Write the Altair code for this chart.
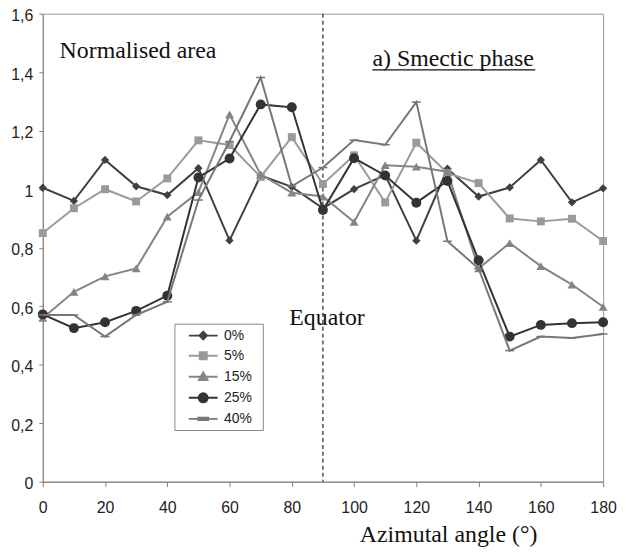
import altair as alt
import pandas as pd

# ---------------- data ----------------
angles = [0, 10, 20, 30, 40, 50, 60, 70, 80, 90, 100, 110, 120, 130, 140, 150, 160, 170, 180]
series_names = ["0%", "5%", "15%", "25%", "40%"]

area_0 = [1.005, 0.96, 1.10, 1.01, 0.98, 1.072, 0.825, 1.047, 1.008, 0.935, 1.0, 1.048, 0.824, 1.07, 0.975, 1.006, 1.10, 0.955, 1.003]
area_5 = [0.85, 0.935, 1.0, 0.958, 1.037, 1.167, 1.151, 1.042, 1.178, 1.018, 1.116, 0.955, 1.159, 1.055, 1.021, 0.90, 0.89, 0.899, 0.823]
area_15 = [0.56, 0.649, 0.702, 0.729, 0.906, 0.99, 1.256, 1.05, 0.988, 0.975, 0.888, 1.082, 1.077, 1.06, 0.729, 0.816, 0.737, 0.674, 0.598]
area_25 = [0.572, 0.525, 0.545, 0.584, 0.636, 1.04, 1.105, 1.29, 1.28, 0.929, 1.106, 1.047, 0.954, 1.028, 0.757, 0.496, 0.536, 0.542, 0.545]
area_40 = [0.57, 0.57, 0.496, 0.57, 0.615, 0.963, 1.163, 1.382, 1.01, 1.074, 1.168, 1.152, 1.298, 0.822, 0.729, 0.448, 0.496, 0.491, 0.505]
all_series = [area_0, area_5, area_15, area_25, area_40]

series_colors = ["#404040", "#9a9a9a", "#858585", "#333333", "#777777"]
marker_shapes = ["diamond", "square", "triangle-up", "circle", "M-1,-0.17L1,-0.17L1,0.17L-1,0.17Z"]
marker_sizes = [70, 64, 81, 100, 81]

# legend symbols: a line with the marker on it (unit = sqrt(size)/2 px);
# the bare move-to only widens the legend box on the right
legend_line = "M7.4,0M-2.07,0L2.07,0"
legend_shapes = [
    legend_line + "M0,-0.55L0.55,0L0,0.55L-0.55,0Z",
    legend_line + "M-0.5,-0.5L0.5,-0.5L0.5,0.5L-0.5,0.5Z",
    legend_line + "M0,-0.6L0.6,0.45L-0.6,0.45Z",
    legend_line + "M-0.64,0A0.64,0.64,0,1,0,0.64,0A0.64,0.64,0,1,0,-0.64,0Z",
    legend_line + "M-0.7,-0.16L0.7,-0.16L0.7,0.16L-0.7,0.16Z",
]

annot_text = ["Normalised area", "a) Smectic phase", "Equator"]
annot_angle = [5.4, 105.9, 79.2]
annot_value = [1.45, 1.422, 0.534]

underline_angle = [105.9]
underline_angle2 = [158.2]
underline_value = [1.408]

equator_angle = [90]

x_ticks = [0, 20, 40, 60, 80, 100, 120, 140, 160, 180]
y_ticks = [0, 0.2, 0.4, 0.6, 0.8, 1.0, 1.2, 1.4, 1.6]

# ---------------- tables ----------------
rows = []
for name, vals in zip(series_names, all_series):
    for a, v in zip(angles, vals):
        rows.append({"angle": a, "value": v, "series": name})
df = pd.DataFrame(rows)

annot_df = pd.DataFrame({"angle": annot_angle, "value": annot_value, "label": annot_text})
under_df = pd.DataFrame({"angle": underline_angle, "angle2": underline_angle2, "value": underline_value})
eq_df = pd.DataFrame({"angle": equator_angle})

# ---------------- scales / axes ----------------
x_scale = alt.Scale(domain=[0, 180], nice=False, zero=False)
y_scale = alt.Scale(domain=[0, 1.6], nice=False)
stroke_scale = alt.Scale(domain=series_names, range=series_colors)
fill_scale = alt.Scale(domain=series_names, range=series_colors)
shape_scale = alt.Scale(domain=series_names, range=legend_shapes)

x_axis = alt.Axis(
    values=x_ticks, grid=False, tickSize=5, labelPadding=13, labelFlush=False,
    labelFont="Liberation Sans", labelFontSize=16, labelColor="#222",
    domainColor="#808080", tickColor="#808080",
    title="Azimutal angle (°)", titleFont="Liberation Serif", titleFontSize=24,
    titleFontWeight="normal", titleColor="#111", titleX=408, titleY=60,
    titleAlign="center", titleBaseline="alphabetic",
)
y_axis = alt.Axis(
    values=y_ticks, grid=False, tickSize=4, labelPadding=6, labelFlush=False,
    labelOffset=2,
    labelExpr="replace(format(datum.value, '.1~f'), '.', ',')",
    labelFont="Liberation Sans", labelFontSize=16, labelColor="#222",
    domainColor="#808080", tickColor="#808080", title=None,
)

X = alt.X("angle:Q", scale=x_scale, axis=x_axis)
Y = alt.Y("value:Q", scale=y_scale, axis=y_axis)

base = alt.Chart(df)

layers = []
for name, col, shp, sz in zip(series_names, series_colors, marker_shapes, marker_sizes):
    sub = base.transform_filter(alt.datum.series == name)
    layers.append(sub.mark_line(strokeWidth=2, color=col).encode(x=X, y=Y))
    layers.append(
        sub.mark_point(shape=shp, size=sz, filled=True, opacity=1, color=col).encode(x=X, y=Y)
    )

leg = alt.Legend(
    title=None, orient="none", legendX=132.5, legendY=312,
    symbolSize=196, symbolStrokeWidth=2, symbolOpacity=1, symbolOffset=17,
    labelFont="Liberation Sans", labelFontSize=14, labelColor="#222",
    labelOffset=13, rowPadding=4.2, padding=4,
    strokeColor="#888", fillColor="white",
)
legend_layer = base.mark_point(
    filled=True, opacity=0, size=196, strokeWidth=2
).encode(
    x=X, y=Y,
    fill=alt.Fill("series:N", scale=fill_scale, legend=leg),
    stroke=alt.Stroke("series:N", scale=stroke_scale, legend=leg),
    shape=alt.Shape("series:N", scale=shape_scale, legend=leg),
)

equator = alt.Chart(eq_df).mark_rule(color="#111", strokeWidth=1.1, strokeDash=[4, 3]).encode(x=X)

texts = alt.Chart(annot_df).mark_text(
    align="left", baseline="alphabetic", font="Liberation Serif", fontSize=24, color="#111"
).encode(x=X, y=Y, text="label:N")

underline = alt.Chart(under_df).mark_rule(color="#111", strokeWidth=1.2).encode(
    x=X, x2="angle2:Q", y=Y
)

chart = alt.layer(equator, legend_layer, *layers, texts, underline).properties(
    width=564, height=471,
    autosize=alt.AutoSizeParams(type="none"),
    padding={"left": 35, "top": 4, "right": 15, "bottom": 65},
).configure_view(stroke="#999", strokeWidth=1)

chart.save("out.html", embed_options={"renderer": "svg", "actions": False})
